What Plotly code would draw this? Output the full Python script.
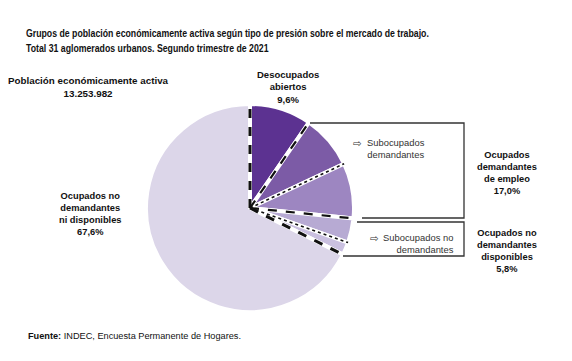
import math
import plotly.graph_objects as go

W, H = 572, 361

# ---- data ----
slice_labels = ["Desocupados abiertos", "Subocupados demandantes", "Otros ocupados demandantes",
                "Subocupados no demandantes", "Otros ocupados no demandantes disponibles",
                "Ocupados no demandantes ni disponibles"]
slice_values = [9.6, 8.4, 8.6, 3.8, 2.0, 67.6]
slice_colors = ["#5c3291", "#7c5ba6", "#9d86c1", "#b7aad3", "#cac0e0", "#dcd6e9"]
boundary_styles = ["dash", "dash", "dot", "dash", "dot", "dash"]
title_lines = ["Grupos de población económicamente activa según tipo de presión sobre el mercado de trabajo.",
               "Total 31 aglomerados urbanos. Segundo trimestre de 2021"]
pea_total = "13.253.982"

def px(x):
    return x / W

def py(y):
    return 1 - y / H

cx, cy, r = 250, 208, 104

fig = go.Figure()
fig.add_trace(go.Pie(
    labels=slice_labels, values=slice_values, sort=False, direction="clockwise",
    rotation=0, textinfo="none", hoverinfo="label+percent", showlegend=False,
    marker=dict(colors=slice_colors, line=dict(color="white", width=4)),
    domain=dict(x=[px(cx - r), px(cx + r)], y=[py(cy + r), py(cy - r)]),
))

shapes = []
total = sum(slice_values)
cum = 0.0
angles = [0.0]
for v in slice_values[:-1]:
    cum += v
    angles.append(cum / total * 360)
for i, a in enumerate(angles):
    t = math.radians(a)
    x1 = cx + r * math.sin(t)
    y1 = cy - r * math.cos(t)
    style = boundary_styles[i]
    width = 3 if (i == 0 or i == len(angles) - 1) else (2.2 if style == "dash" else 1.6)
    shapes.append(dict(type="line", xref="paper", yref="paper",
                       x0=px(cx), y0=py(cy), x1=px(x1), y1=py(y1),
                       line=dict(color="#111111", width=width, dash=style)))

def path(pts):
    return "M " + " L ".join(f"{px(x):.5f},{py(y):.5f}" for x, y in pts)

shapes.append(dict(type="path", xref="paper", yref="paper",
                   path=path([(310, 123), (464, 123), (464, 218), (362, 218)]),
                   line=dict(color="#333333", width=1.3)))
shapes.append(dict(type="path", xref="paper", yref="paper",
                   path=path([(357, 222), (464, 222), (464, 256), (343, 256)]),
                   line=dict(color="#333333", width=1.3)))

BOLD = "Liberation Sans, Arial, sans-serif"
ann = []

def text(x, y, s, size=9, bold=True, xanchor="center", yanchor="middle", align="center",
         family=BOLD, color="#111111"):
    if bold:
        s = "<b>" + s.replace("<br>", "</b><br><b>") + "</b>"
    ann.append(dict(x=px(x), y=py(y), xref="paper", yref="paper", text=s, showarrow=False,
                    xanchor=xanchor, yanchor=yanchor, align=align,
                    font=dict(family=family, size=size, color=color)))

def pct(v):
    return f"{v:.1f}".replace(".", ",") + "%"

# title (condensed look applied in post_script)
text(24, 33, title_lines[0], size=10.8, xanchor="left", align="left")
text(24, 48, title_lines[1], size=10.8, xanchor="left", align="left")

text(88, 87, "Población económicamente activa<br>" + pea_total, size=9.8)
text(288, 87, "Desocupados<br>abiertos<br>" + pct(slice_values[0]), size=9.5)
text(90, 214, "Ocupados no<br>demandantes<br>ni disponibles<br>" + pct(slice_values[5]), size=9.3)
text(507, 173, "Ocupados<br>demandantes<br>de empleo<br>" + pct(slice_values[1] + slice_values[2]), size=9.3)
text(507, 251, "Ocupados no<br>demandantes<br>disponibles<br>" + pct(slice_values[3] + slice_values[4]), size=9.3)

text(357, 143, "⇨", size=10.5, bold=False, family="DejaVu Sans", color="#333333")
text(396, 148, "Subocupados<br>demandantes", size=9.4, bold=False, color="#333333")
text(374, 238, "⇨", size=10.5, bold=False, family="DejaVu Sans", color="#333333")
text(456, 243, "Subocupados no<br>demandantes", size=9.4, bold=False, xanchor="right", align="right",
     color="#333333")

ann.append(dict(x=px(26), y=py(336), xref="paper", yref="paper",
                text="<b>Fuente:</b> INDEC, Encuesta Permanente de Hogares.", showarrow=False,
                xanchor="left", yanchor="middle",
                font=dict(family="Liberation Sans", size=9.2, color="#111111")))

fig.update_layout(width=W, height=H, margin=dict(l=0, r=0, t=0, b=0),
                  paper_bgcolor="white", plot_bgcolor="white",
                  shapes=shapes, annotations=ann)

post = """
document.body.style.margin='0px';
var gd = document.getElementById('{plot_id}');
gd.querySelectorAll('text.annotation-text').forEach(function(t){
  var s = t.textContent;
  if (s.indexOf('Grupos de poblaci') === 0 || s.indexOf('Total 31') === 0) {
    t.style.transformBox = 'fill-box';
    t.style.transformOrigin = '0% 50%';
    t.style.transform = 'scaleX(0.81)';
  }
});
"""
fig.write_html("out.html", config={"displayModeBar": False}, post_script=post)
